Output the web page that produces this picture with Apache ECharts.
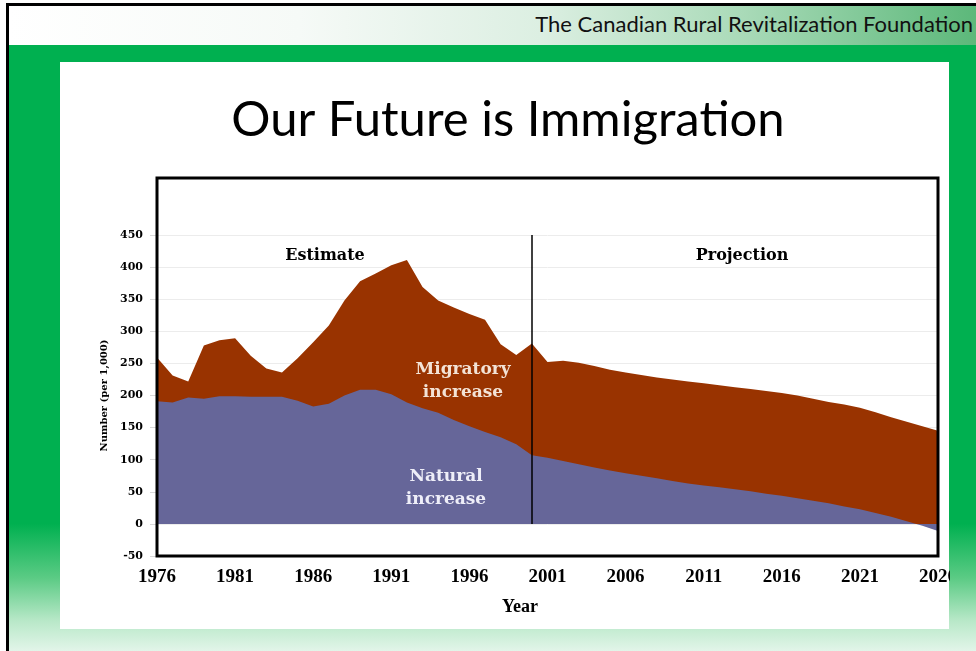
<!DOCTYPE html>
<html>
<head>
<meta charset="utf-8">
<title>Our Future is Immigration</title>
<script src="https://cdn.jsdelivr.net/npm/echarts@6/dist/echarts.min.js"></script>
<style>
  html, body { margin: 0; padding: 0; }
  body { width: 976px; height: 651px; position: relative; overflow: hidden; background: #fff; }
  .frame { position: absolute; left: 6px; top: 3px; width: 980px; height: 660px; border-left: 3px solid #000; border-top: 3px solid #000; }
  .header { position: absolute; left: 9px; top: 6px; width: 967px; height: 39px;
    background: linear-gradient(to right, #ffffff 0%, #f6faf7 30%, #dcefe2 55%, #a9dab8 76%, #5cb87a 100%); }
  .header span { position: absolute; right: 3px; top: 4px; font-family: Lato, sans-serif; font-size: 22px; color: #111; white-space: nowrap; }
  .band { position: absolute; left: 9px; top: 45px; width: 967px; height: 606px;
    background: linear-gradient(to bottom, #00b050 0%, #00b050 79%, #5ccb85 88%, #b8e8c8 95%, #e2f5e9 100%); }
  .panel { position: absolute; left: 60px; top: 62px; width: 889px; height: 567px; background: #fff; }
  #chart { position: absolute; left: 0; top: 0; width: 950px; height: 651px; }
</style>
</head>
<body>
<div class="frame"></div>
<div class="header"><span>The Canadian Rural Revitalization Foundation</span></div>
<div class="band"></div>
<div class="panel"></div>
<div id="chart"></div>
<script>
// years on the axis, one point per year
const years = [
  "1976", "1977", "1978", "1979", "1980", "1981", "1982", "1983", "1984", "1985",
  "1986", "1987", "1988", "1989", "1990", "1991", "1992", "1993", "1994", "1995",
  "1996", "1997", "1998", "1999", "2000", "2001", "2002", "2003", "2004", "2005",
  "2006", "2007", "2008", "2009", "2010", "2011", "2012", "2013", "2014", "2015",
  "2016", "2017", "2018", "2019", "2020", "2021", "2022", "2023", "2024", "2025",
  "2026",
];
// top of the migratory band (natural + migratory), per 1,000
const totalIncrease = [
  259, 231, 222, 278, 286, 289, 262, 242, 236, 258,
  283, 309, 348, 378, 390, 403, 411, 369, 348, 337,
  327, 318, 280, 263, 281, 252, 254, 251, 246, 240,
  236, 232, 228, 225, 222, 219, 216, 213, 210, 207,
  204, 200, 195, 190, 186, 181, 174, 166, 159, 152,
  145,
];
// natural increase, per 1,000
const naturalIncrease = [
  191, 189, 197, 195, 199, 199, 198, 198, 198, 192,
  183, 187, 200, 209, 209, 202, 189, 180, 173, 162,
  152, 143, 135, 124, 107, 103, 98, 93, 88, 83,
  79, 75, 71, 67, 63, 60, 57, 54, 51, 47,
  44, 40, 36, 32, 27, 23, 17, 11, 4, -3,
  -11,
];
const splitYear = "2000";

const serif = "'Liberation Serif', 'Times New Roman', serif";
const wideSerif = "'DejaVu Serif', serif";

const chart = echarts.init(document.getElementById("chart"));
const option = {
  animation: false,
  title: {
    text: "Our Future is Immigration",
    left: 503,
    top: 91,
    textAlign: "center",
    textStyle: {
      fontFamily: "Lato",
      fontSize: 49,
      fontWeight: "normal",
      color: "#000",
    },
  },
  grid: {
    left: 157,
    top: 235,
    width: 781,
    height: 321,
    outerBoundsMode: "none",
  },
  xAxis: {
    type: "category",
    data: years,
    boundaryGap: false,
    name: "Year",
    nameLocation: "middle",
    nameGap: 42,
    nameTextStyle: {
      fontFamily: serif,
      fontWeight: "bold",
      fontSize: 18,
      color: "#000",
      padding: [0, 55, 0, 0],
    },
    axisLine: { show: false, onZero: false },
    axisTick: { show: false },
    splitLine: { show: false },
    axisLabel: {
      interval: 4,
      margin: 12,
      fontFamily: serif,
      fontWeight: "bold",
      fontSize: 19,
      color: "#000",
    },
  },
  yAxis: {
    type: "value",
    min: -50,
    max: 450,
    interval: 50,
    name: "Number (per 1,000)",
    nameLocation: "middle",
    nameGap: 45,
    nameTextStyle: {
      fontFamily: wideSerif,
      fontWeight: "bold",
      fontSize: 10,
      color: "#000",
    },
    axisLine: { show: false },
    axisTick: { show: true, length: 7, lineStyle: { color: "#d8d8d8" } },
    splitLine: { lineStyle: { color: "#ececec", width: 1 } },
    axisLabel: {
      margin: 14,
      fontFamily: wideSerif,
      fontWeight: "bold",
      fontSize: 11,
      color: "#000",
    },
  },
  series: [
    {
      name: "Migratory increase",
      type: "line",
      data: totalIncrease,
      symbol: "none",
      lineStyle: { width: 0 },
      areaStyle: { color: "#993300", opacity: 1 },
      markLine: {
        symbol: "none",
        silent: true,
        label: { show: false },
        lineStyle: { color: "#000", width: 1.5, type: "solid" },
        data: [[{ coord: [splitYear, 450] }, { coord: [splitYear, 0] }]],
        z: 10,
      },
    },
    {
      name: "Natural increase",
      type: "line",
      data: naturalIncrease,
      symbol: "none",
      lineStyle: { width: 0 },
      areaStyle: { color: "#666699", opacity: 1 },
    },
  ],
  graphic: [
    {
      type: "rect",
      z: 100,
      shape: { x: 157, y: 178, width: 781, height: 378 },
      style: { fill: null, stroke: "#000", lineWidth: 3 },
    },
    {
      type: "text",
      z: 100,
      style: {
        text: "Estimate", x: 325, y: 256,
        textAlign: "center", textVerticalAlign: "middle",
        font: "bold 16px " + wideSerif, fill: "#000",
      },
    },
    {
      type: "text",
      z: 100,
      style: {
        text: "Projection", x: 742, y: 256,
        textAlign: "center", textVerticalAlign: "middle",
        font: "bold 16px " + wideSerif, fill: "#000",
      },
    },
    {
      type: "text",
      z: 100,
      style: {
        text: "Migratory\nincrease", x: 463, y: 381,
        textAlign: "center", textVerticalAlign: "middle", lineHeight: 23,
        font: "bold 17px " + wideSerif, fill: "#f3e3d6",
      },
    },
    {
      type: "text",
      z: 100,
      style: {
        text: "Natural\nincrease", x: 446, y: 488,
        textAlign: "center", textVerticalAlign: "middle", lineHeight: 23,
        font: "bold 17px " + wideSerif, fill: "#eeeef8",
      },
    },
  ],
};
chart.setOption(option);
</script>
</body>
</html>
